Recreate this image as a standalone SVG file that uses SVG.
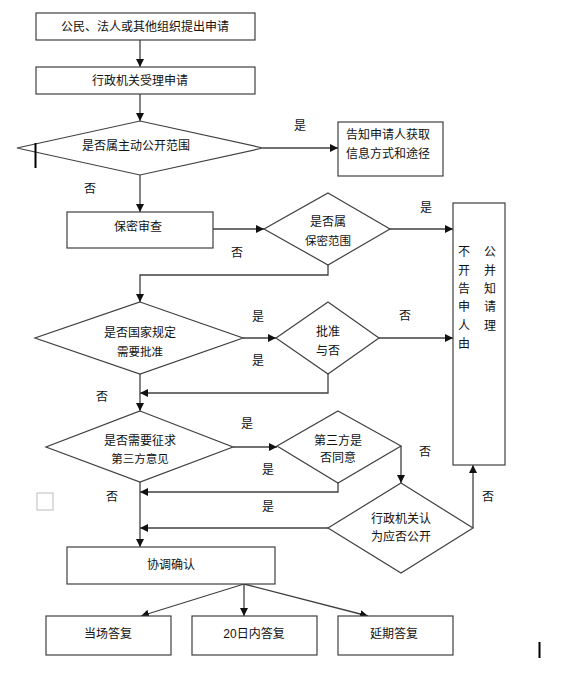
<svg xmlns="http://www.w3.org/2000/svg" width="561" height="677" viewBox="0 0 561 677">
<style>
.box{fill:#fff;stroke:#404040;stroke-width:1.2}
.dia{fill:#fff;stroke:#404040;stroke-width:1.2}
.ln{fill:none;stroke:#404040;stroke-width:1.3}
.t{font-family:"Liberation Sans","Noto Sans CJK SC",sans-serif;font-size:12px;fill:#111;text-anchor:middle;dominant-baseline:central}
.s{font-size:11.5px}
.lb{font-family:"Liberation Sans","Noto Sans CJK SC",sans-serif;font-size:12px;fill:#111;text-anchor:middle;dominant-baseline:central}
</style>
<defs>
<marker id="ah" viewBox="0 0 10 10" refX="10" refY="5" markerWidth="8" markerHeight="8" markerUnits="userSpaceOnUse" orient="auto">
<path d="M0,0 L10,5 L0,10 z" fill="#111"/>
</marker>
</defs>
<rect width="561" height="677" fill="#fff"/>

<g id="connectors">
<line class="ln" x1="140" y1="40" x2="140" y2="67" marker-end="url(#ah)"/>
<line class="ln" x1="140" y1="94" x2="140" y2="121" marker-end="url(#ah)"/>
<line class="ln" x1="263" y1="148" x2="338" y2="148" marker-end="url(#ah)"/>
<line class="ln" x1="140" y1="175" x2="140" y2="212" marker-end="url(#ah)"/>
<line class="ln" x1="213" y1="229" x2="264" y2="229" marker-end="url(#ah)"/>
<line class="ln" x1="390" y1="229" x2="453" y2="229" marker-end="url(#ah)"/>
<polyline class="ln" points="328,265 328,275 140,275 140,302" marker-end="url(#ah)"/>
<line class="ln" x1="243" y1="338" x2="276" y2="338" marker-end="url(#ah)"/>
<line class="ln" x1="379" y1="338" x2="453" y2="338" marker-end="url(#ah)"/>
<polyline class="ln" points="328,374 328,393 140,393" marker-end="url(#ah)"/>
<line class="ln" x1="140" y1="374" x2="140" y2="411" marker-end="url(#ah)"/>
<line class="ln" x1="233" y1="447" x2="277" y2="447" marker-end="url(#ah)"/>
<line class="ln" x1="401" y1="446" x2="401" y2="483" marker-end="url(#ah)"/>
<polyline class="ln" points="338,483 338,492 140,492" marker-end="url(#ah)"/>
<line class="ln" x1="328" y1="528" x2="140" y2="528" marker-end="url(#ah)"/>
<line class="ln" x1="473" y1="528" x2="473" y2="465" marker-end="url(#ah)"/>
<line class="ln" x1="140" y1="482" x2="140" y2="547" marker-end="url(#ah)"/>
<line class="ln" x1="244" y1="584" x2="141" y2="616" marker-end="url(#ah)"/>
<line class="ln" x1="244" y1="584" x2="244" y2="616" marker-end="url(#ah)"/>
<line class="ln" x1="244" y1="584" x2="368" y2="616" marker-end="url(#ah)"/>
</g>

<g id="n1"><rect class="box" x="36" y="13" width="219" height="27"/><text class="t" x="145" y="27">公民、法人或其他组织提出申请</text></g>
<g id="n2"><rect class="box" x="36" y="67" width="219" height="27"/><text class="t" x="140" y="81">行政机关受理申请</text></g>
<g id="d1"><polygon class="dia" points="140,121 263,148 140,175 17,148"/><text class="t" x="136" y="146">是否属主动公开范围</text></g>
<g id="n3"><rect class="box" x="338" y="122" width="105" height="54"/><text class="t" x="388" y="135">告知申请人获取</text><text class="t" x="388" y="154">信息方式和途径</text></g>
<g id="n4"><rect class="box" x="67" y="212" width="146" height="36"/><text class="t" x="138" y="227">保密审查</text></g>
<g id="d2"><polygon class="dia" points="328,193 390,229 328,265 264,229"/><text class="t" x="328" y="222">是否属</text><text class="t s" x="328" y="241">保密范围</text></g>
<g id="n5"><rect class="box" x="453" y="203" width="52" height="262"/>
<text class="t" x="464" y="252">不</text><text class="t" x="464" y="271">开</text><text class="t" x="464" y="289">告</text><text class="t" x="464" y="307">申</text><text class="t" x="464" y="326">人</text><text class="t" x="464" y="344">由</text>
<text class="t" x="490" y="252">公</text><text class="t" x="490" y="271">并</text><text class="t" x="490" y="289">知</text><text class="t" x="490" y="307">请</text><text class="t" x="490" y="326">理</text></g>
<g id="d3"><polygon class="dia" points="140,302 243,338 140,374 35,338"/><text class="t" x="140" y="333">是否国家规定</text><text class="t s" x="140" y="352">需要批准</text></g>
<g id="d4"><polygon class="dia" points="328,302 379,338 328,374 276,338"/><text class="t" x="328" y="332">批准</text><text class="t" x="328" y="351">与否</text></g>
<g id="d5"><polygon class="dia" points="140,411 233,447 140,482 46,447"/><text class="t" x="140" y="441">是否需要征求</text><text class="t s" x="140" y="459">第三方意见</text></g>
<g id="d6"><polygon class="dia" points="338,411 401,446 338,483 277,446"/><text class="t" x="338" y="441">第三方是</text><text class="t" x="338" y="458">否同意</text></g>
<g id="d7"><polygon class="dia" points="401,483 473,528 401,573 328,528"/><text class="t" x="401" y="519">行政机关认</text><text class="t" x="401" y="537">为应否公开</text></g>
<g id="n6"><rect class="box" x="67" y="547" width="208" height="37"/><text class="t" x="171" y="565">协调确认</text></g>
<g id="n7"><rect class="box" x="46" y="616" width="125" height="39"/><text class="t" x="108" y="634">当场答复</text></g>
<g id="n8"><rect class="box" x="192" y="616" width="125" height="39"/><text class="t" x="254" y="634">20日内答复</text></g>
<g id="n9"><rect class="box" x="338" y="616" width="115" height="39"/><text class="t" x="394" y="634">延期答复</text></g>

<g id="labels">
<text class="lb" x="300" y="126">是</text>
<text class="lb" x="90" y="189">否</text>
<text class="lb" x="426" y="208">是</text>
<text class="lb" x="237" y="253">否</text>
<text class="lb" x="258" y="317">是</text>
<text class="lb" x="258" y="361">是</text>
<text class="lb" x="405" y="316">否</text>
<text class="lb" x="102" y="397">否</text>
<text class="lb" x="247" y="424">是</text>
<text class="lb" x="268" y="470">是</text>
<text class="lb" x="425" y="452">否</text>
<text class="lb" x="112" y="497">否</text>
<text class="lb" x="268" y="507">是</text>
<text class="lb" x="488" y="497">否</text>
</g>

<rect x="37" y="493" width="16" height="17" fill="none" stroke="#bbb" stroke-width="1"/>
<line x1="35.5" y1="143" x2="35.5" y2="168" stroke="#000" stroke-width="2"/>
<line x1="539.5" y1="642" x2="539.5" y2="658" stroke="#000" stroke-width="2"/>
</svg>
